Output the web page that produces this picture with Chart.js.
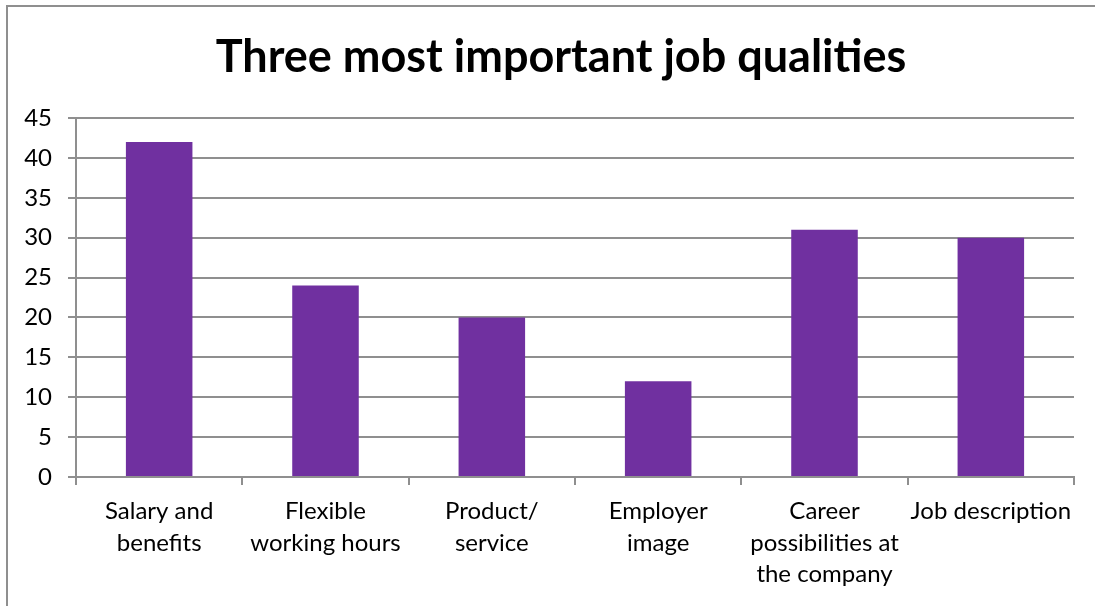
<!DOCTYPE html>
<html>
<head>
<meta charset="utf-8">
<script src="https://cdn.jsdelivr.net/npm/chart.js@4.4.1/dist/chart.umd.min.js"></script>
<style>
  html, body { margin: 0; padding: 0; background: #fff; overflow: hidden; }
  #wrap { position: relative; width: 1095px; height: 606px; overflow: hidden; background: #fff; }
  canvas { display: block; }
  .edge { position: absolute; background: #8f8f8f; pointer-events: none; }
  #edge-top { left: 6px; top: 5px; width: 1089px; height: 2px; }
  #edge-left { left: 6px; top: 5px; width: 2px; height: 601px; }
</style>
</head>
<body>
<div id="wrap">
  <canvas id="chart" width="1095" height="606"></canvas>
  <div class="edge" id="edge-top"></div>
  <div class="edge" id="edge-left"></div>
</div>
<script>
const categories = [
  ['Salary and', 'benefits'],
  ['Flexible', 'working hours'],
  ['Product/', 'service'],
  ['Employer', 'image'],
  ['Career', 'possibilities at', 'the company'],
  ['Job description'],
];
const values = [42, 24, 20, 12, 31, 30];
const yMin = 0, yMax = 45, yStep = 5;

const FONT = 'Lato, "Open Sans", sans-serif';
const GRID = '#8f8f8f';

// centre the title over the framed area instead of the whole canvas
const titleShift = {
  id: 'titleShift',
  afterLayout(chart) {
    if (chart.titleBlock) chart.titleBlock.left = 48;
  },
};

new Chart(document.getElementById('chart'), {
  type: 'bar',
  data: {
    labels: categories,
    datasets: [{
      data: values,
      backgroundColor: '#7030a0',
      borderWidth: 0,
      barPercentage: 0.4,
      categoryPercentage: 1,
    }],
  },
  plugins: [titleShift],
  options: {
    responsive: false,
    animation: false,
    layout: { padding: { left: 0, right: 21, top: 0, bottom: 0 } },
    plugins: {
      legend: { display: false },
      tooltip: { enabled: false },
      title: {
        display: true,
        text: 'Three most important job qualities',
        color: '#000',
        font: { family: FONT, size: 45, weight: 'bold', lineHeight: 1.2 },
        padding: { top: 30, bottom: 34 },
      },
    },
    scales: {
      x: {
        grid: { offset: true, drawOnChartArea: false, color: GRID, lineWidth: 2, tickLength: 8 },
        border: { display: true, color: GRID, width: 2 },
        ticks: {
          color: '#000', padding: 11, maxRotation: 0, autoSkip: false,
          font: { family: FONT, size: 24, lineHeight: 1.3 },
        },
        afterFit(scale) { scale.height = 129; },
      },
      y: {
        min: yMin, max: yMax,
        grid: { color: GRID, lineWidth: 2, tickLength: 8 },
        border: { display: true, color: GRID, width: 2 },
        ticks: {
          stepSize: yStep, color: '#000', padding: 16,
          font: { family: FONT, size: 24 },
        },
        afterFit(scale) { scale.width = 76; },
      },
    },
  },
});
</script>
</body>
</html>
